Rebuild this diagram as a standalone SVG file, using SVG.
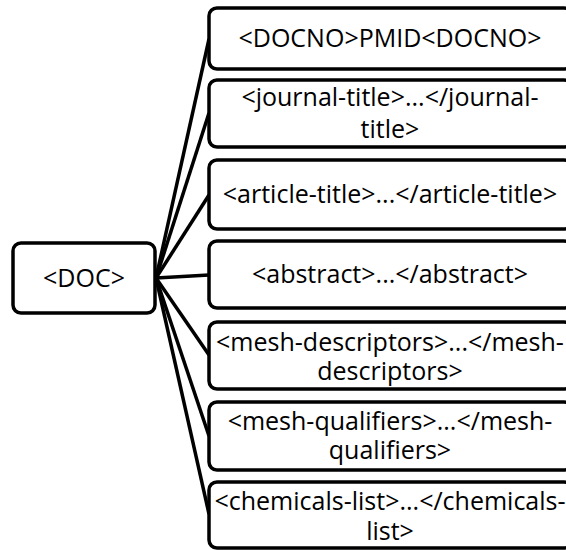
<svg xmlns="http://www.w3.org/2000/svg" width="566" height="550" viewBox="0 0 566 550">
<style>
.box{fill:#fff;stroke:#000;stroke-width:3.5}
.lbl{font-family:"Open Sans","Noto Sans",sans-serif;font-size:25px;fill:#000;text-anchor:middle}
.con{stroke:#000;stroke-width:3.5;fill:none}
</style>
<rect width="566" height="550" fill="#fff"/>
<g id="connectors">
<line class="con" x1="156" y1="278" x2="209" y2="39"/>
<line class="con" x1="156" y1="278" x2="209" y2="113"/>
<line class="con" x1="156" y1="278" x2="209" y2="195"/>
<line class="con" x1="156" y1="278" x2="209" y2="275"/>
<line class="con" x1="156" y1="278" x2="209" y2="355"/>
<line class="con" x1="156" y1="278" x2="209" y2="436"/>
<line class="con" x1="156" y1="278" x2="209" y2="514"/>
</g>
<g id="doc">
<rect class="box" x="13" y="243" width="142" height="70" rx="8"/>
<text class="lbl" x="84" y="287">&lt;DOC&gt;</text>
</g>
<g id="docno">
<rect class="box" x="209" y="8" width="363" height="61" rx="8"/>
<text class="lbl" x="390" y="47">&lt;DOCNO&gt;PMID&lt;DOCNO&gt;</text>
</g>
<g id="journal-title">
<rect class="box" x="209" y="80" width="363" height="67" rx="8"/>
<text class="lbl" x="390" y="106">&lt;journal-title&gt;...&lt;/journal-</text>
<text class="lbl" x="390" y="138">title&gt;</text>
</g>
<g id="article-title">
<rect class="box" x="209" y="160" width="363" height="69" rx="8"/>
<text class="lbl" x="390" y="203">&lt;article-title&gt;...&lt;/article-title&gt;</text>
</g>
<g id="abstract">
<rect class="box" x="209" y="241" width="363" height="67" rx="8"/>
<text class="lbl" x="390" y="283">&lt;abstract&gt;...&lt;/abstract&gt;</text>
</g>
<g id="mesh-descriptors">
<rect class="box" x="209" y="322" width="363" height="67" rx="8"/>
<text class="lbl" x="390" y="351">&lt;mesh-descriptors&gt;...&lt;/mesh-</text>
<text class="lbl" x="390" y="380">descriptors&gt;</text>
</g>
<g id="mesh-qualifiers">
<rect class="box" x="209" y="402" width="363" height="68" rx="8"/>
<text class="lbl" x="390" y="430">&lt;mesh-qualifiers&gt;...&lt;/mesh-</text>
<text class="lbl" x="390" y="459">qualifiers&gt;</text>
</g>
<g id="chemicals-list">
<rect class="box" x="209" y="482" width="363" height="66" rx="8"/>
<text class="lbl" x="390" y="510">&lt;chemicals-list&gt;...&lt;/chemicals-</text>
<text class="lbl" x="390" y="540">list&gt;</text>
</g>
</svg>
